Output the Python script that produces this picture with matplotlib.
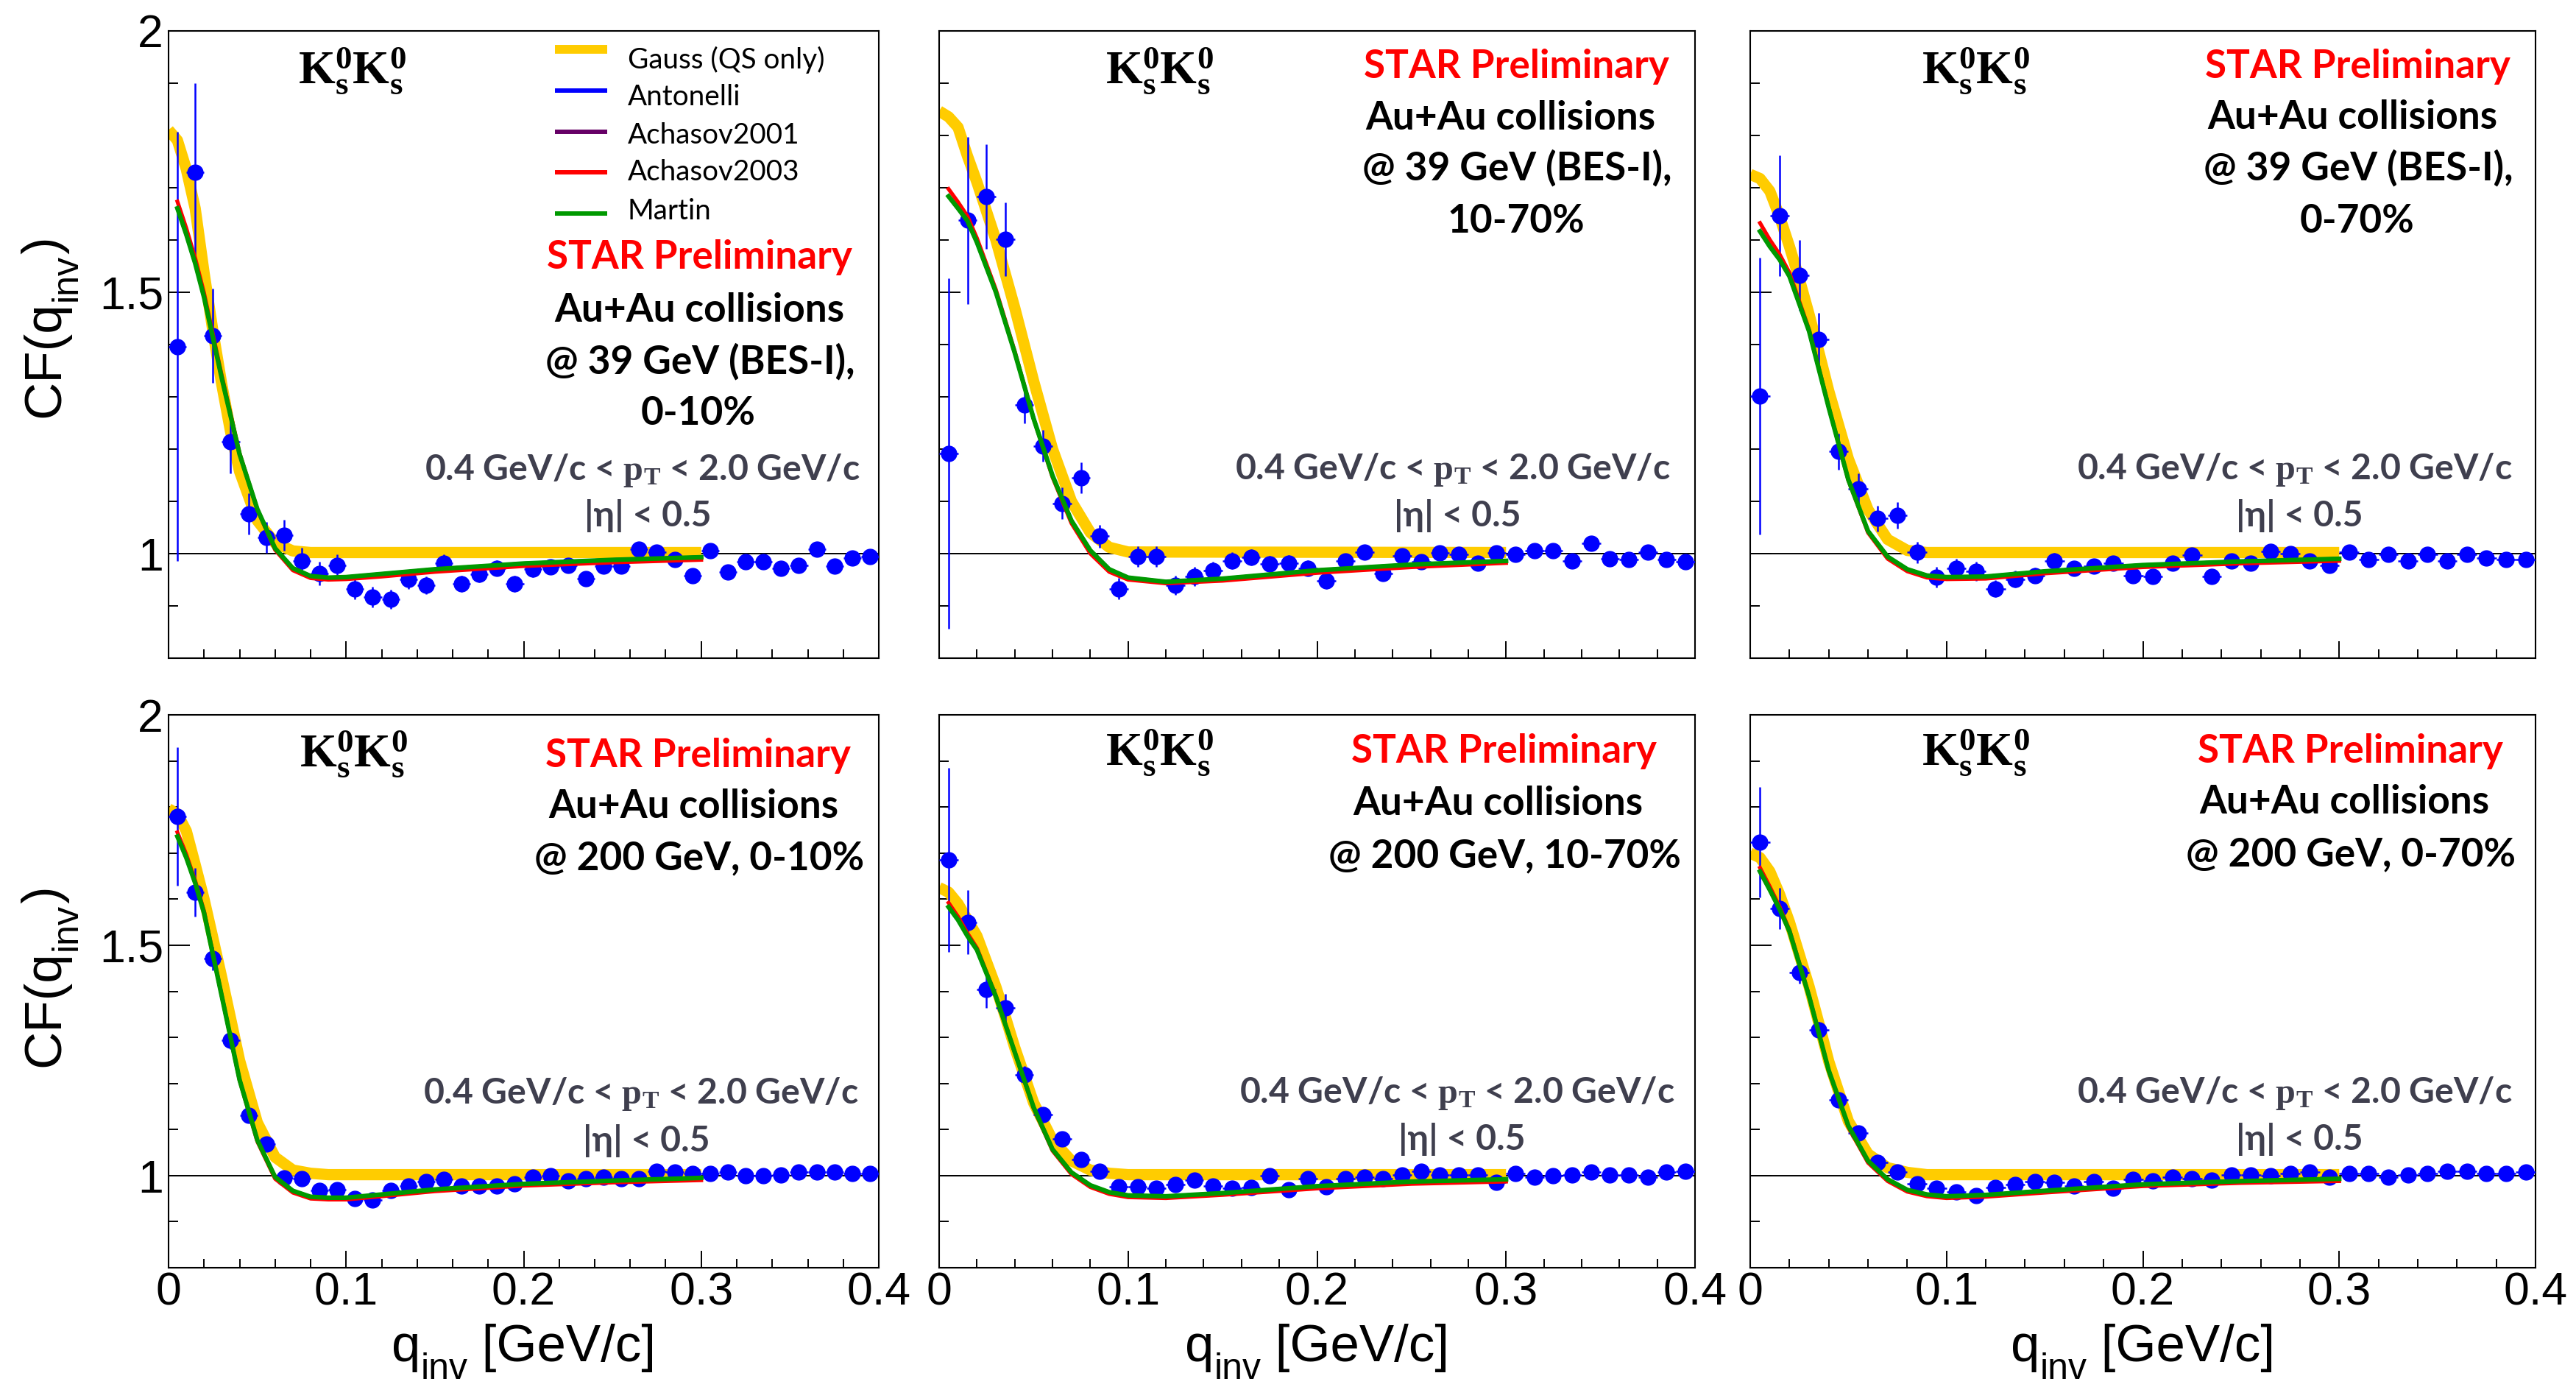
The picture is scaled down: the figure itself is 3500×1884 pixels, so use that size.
import matplotlib
matplotlib.use("Agg")
import matplotlib.pyplot as plt
from matplotlib.lines import Line2D
from matplotlib.ticker import MultipleLocator, FuncFormatter

plt.rcParams['mathtext.fontset'] = 'custom'
plt.rcParams['mathtext.rm'] = 'Liberation Serif'
plt.rcParams['mathtext.bf'] = 'Liberation Serif:bold'
plt.rcParams['mathtext.it'] = 'Liberation Serif:italic'
plt.rcParams['mathtext.sf'] = 'Liberation Sans'
plt.rcParams['font.family'] = ['Liberation Sans', 'DejaVu Sans']

# ---------------- data ----------------
Q = [0.005, 0.015, 0.025, 0.035, 0.045, 0.055, 0.065, 0.075, 0.085, 0.095,
     0.105, 0.115, 0.125, 0.135, 0.145, 0.155, 0.165, 0.175, 0.185, 0.195,
     0.205, 0.215, 0.225, 0.235, 0.245, 0.255, 0.265, 0.275, 0.285, 0.295,
     0.305, 0.315, 0.325, 0.335, 0.345, 0.355, 0.365, 0.375, 0.385, 0.395]
QERR = 0.005

CF_39_0010 = [1.396, 1.729, 1.417, 1.214, 1.076, 1.031, 1.035, 0.986, 0.962, 0.978,
              0.933, 0.917, 0.913, 0.950, 0.939, 0.982, 0.942, 0.960, 0.972, 0.942,
              0.970, 0.974, 0.978, 0.952, 0.976, 0.976, 1.008, 1.002, 0.988, 0.958,
              1.005, 0.964, 0.985, 0.985, 0.972, 0.978, 1.008, 0.976, 0.992, 0.994]
ERR_39_0010 = [0.41, 0.17, 0.09, 0.06, 0.04, 0.03, 0.03, 0.025, 0.022, 0.02,
               0.02, 0.02, 0.018, 0.018, 0.017, 0.016, 0.016, 0.015, 0.015, 0.015,
               0.015, 0.014, 0.014, 0.014, 0.014, 0.013, 0.013, 0.013, 0.013, 0.013,
               0.012, 0.012, 0.012, 0.012, 0.012, 0.012, 0.012, 0.011, 0.011, 0.011]
CF_39_1070 = [1.192, 1.637, 1.683, 1.601, 1.284, 1.206, 1.096, 1.145, 1.033, 0.933,
              0.994, 0.994, 0.939, 0.956, 0.968, 0.986, 0.993, 0.980, 0.982, 0.972,
              0.948, 0.986, 1.003, 0.962, 0.995, 0.985, 1.001, 0.998, 0.981, 1.001,
              0.998, 1.006, 1.006, 0.986, 1.020, 0.990, 0.988, 1.002, 0.989, 0.985]
ERR_39_1070 = [0.335, 0.16, 0.10, 0.07, 0.035, 0.03, 0.03, 0.03, 0.022, 0.02,
               0.02, 0.02, 0.018, 0.018, 0.017, 0.016, 0.016, 0.015, 0.015, 0.015,
               0.015, 0.014, 0.014, 0.014, 0.014, 0.013, 0.013, 0.013, 0.013, 0.013,
               0.012, 0.012, 0.012, 0.012, 0.012, 0.012, 0.012, 0.011, 0.011, 0.011]
CF_39_0070 = [1.301, 1.646, 1.532, 1.410, 1.195, 1.124, 1.067, 1.073, 1.002, 0.955,
              0.972, 0.966, 0.933, 0.951, 0.958, 0.986, 0.972, 0.976, 0.982, 0.958,
              0.956, 0.981, 0.997, 0.956, 0.986, 0.981, 1.004, 1.000, 0.986, 0.978,
              1.002, 0.988, 0.998, 0.986, 0.998, 0.986, 0.998, 0.992, 0.988, 0.988]
ERR_39_0070 = [0.265, 0.115, 0.067, 0.05, 0.035, 0.03, 0.025, 0.025, 0.02, 0.02,
               0.018, 0.018, 0.016, 0.016, 0.015, 0.015, 0.014, 0.014, 0.014, 0.013,
               0.013, 0.013, 0.012, 0.012, 0.012, 0.012, 0.011, 0.011, 0.011, 0.011,
               0.011, 0.010, 0.010, 0.010, 0.010, 0.010, 0.010, 0.010, 0.010, 0.010]
CF_200_0010 = [1.779, 1.615, 1.471, 1.293, 1.130, 1.069, 0.995, 0.994, 0.967, 0.969,
               0.950, 0.947, 0.967, 0.977, 0.987, 0.992, 0.977, 0.977, 0.977, 0.982,
               0.997, 1.000, 0.989, 0.994, 0.997, 0.994, 0.994, 1.009, 1.007, 1.005,
               1.004, 1.007, 0.999, 0.999, 1.002, 1.007, 1.007, 1.007, 1.004, 1.004]
ERR_200_0010 = [0.15, 0.053, 0.025, 0.018, 0.014, 0.012, 0.011, 0.010, 0.010, 0.009,
                0.009, 0.009, 0.008, 0.008, 0.008, 0.008, 0.008, 0.008, 0.007, 0.007,
                0.007, 0.007, 0.007, 0.007, 0.007, 0.007, 0.007, 0.007, 0.007, 0.007,
                0.006, 0.006, 0.006, 0.006, 0.006, 0.006, 0.006, 0.006, 0.006, 0.006]
CF_200_1070 = [1.685, 1.550, 1.404, 1.364, 1.218, 1.133, 1.079, 1.035, 1.010, 0.975,
               0.975, 0.972, 0.980, 0.990, 0.977, 0.972, 0.974, 0.999, 0.970, 0.994,
               0.975, 0.994, 0.997, 0.994, 1.002, 1.009, 1.002, 1.002, 1.002, 0.985,
               1.004, 0.997, 1.000, 1.002, 1.007, 1.002, 1.002, 0.997, 1.007, 1.010]
ERR_200_1070 = [0.20, 0.07, 0.04, 0.03, 0.02, 0.016, 0.014, 0.012, 0.011, 0.010,
                0.010, 0.010, 0.009, 0.009, 0.009, 0.009, 0.008, 0.008, 0.008, 0.008,
                0.008, 0.008, 0.008, 0.007, 0.007, 0.007, 0.007, 0.007, 0.007, 0.007,
                0.007, 0.007, 0.007, 0.007, 0.007, 0.007, 0.007, 0.007, 0.007, 0.007]
CF_200_0070 = [1.724, 1.580, 1.441, 1.316, 1.165, 1.092, 1.029, 1.007, 0.982, 0.972,
               0.964, 0.957, 0.974, 0.980, 0.987, 0.985, 0.977, 0.987, 0.972, 0.992,
               0.989, 0.997, 0.994, 0.990, 1.002, 1.002, 0.999, 1.005, 1.007, 0.997,
               1.004, 1.004, 0.997, 1.002, 1.005, 1.009, 1.009, 1.004, 1.004, 1.007]
ERR_200_0070 = [0.12, 0.045, 0.025, 0.018, 0.014, 0.012, 0.011, 0.010, 0.009, 0.009,
                0.008, 0.008, 0.008, 0.008, 0.007, 0.007, 0.007, 0.007, 0.007, 0.007,
                0.007, 0.007, 0.006, 0.006, 0.006, 0.006, 0.006, 0.006, 0.006, 0.006,
                0.006, 0.006, 0.006, 0.006, 0.006, 0.006, 0.006, 0.006, 0.006, 0.006]

# Gauss (QS only) fit curves
GX = [0, 0.005, 0.01, 0.015, 0.02, 0.025, 0.03, 0.035, 0.04, 0.05, 0.06, 0.07, 0.08, 0.09, 0.1, 0.3]
GAUSS_39_0010 = [1.81, 1.79, 1.735, 1.66, 1.537, 1.425, 1.323, 1.232, 1.157, 1.063, 1.020, 1.005, 1.002, 1.002, 1.002, 1.002]
GAUSS_39_1070 = [1.846, 1.835, 1.815, 1.76, 1.71, 1.655, 1.60, 1.535, 1.47, 1.33, 1.20, 1.10, 1.04, 1.012, 1.003, 1.002]
GAUSS_39_0070 = [1.725, 1.717, 1.693, 1.644, 1.587, 1.525, 1.457, 1.385, 1.311, 1.181, 1.084, 1.027, 1.006, 1.002, 1.002, 1.002]
GAUSS_200_0010 = [1.796, 1.785, 1.748, 1.675, 1.60, 1.515, 1.429, 1.34, 1.25, 1.115, 1.04, 1.012, 1.005, 1.002, 1.002, 1.002]
GAUSS_200_1070 = [1.625, 1.615, 1.59, 1.555, 1.52, 1.465, 1.41, 1.345, 1.278, 1.158, 1.077, 1.032, 1.012, 1.005, 1.002, 1.002]
GAUSS_200_0070 = [1.70, 1.69, 1.66, 1.61, 1.55, 1.48, 1.41, 1.33, 1.248, 1.118, 1.047, 1.017, 1.007, 1.002, 1.002, 1.002]

# FSI model curves
CX = [0.005, 0.01, 0.015, 0.02, 0.03, 0.04, 0.05, 0.06, 0.07, 0.08, 0.09, 0.1, 0.12, 0.15, 0.2, 0.25, 0.3]
MARTIN_39_0010 = [1.660, 1.610, 1.555, 1.490, 1.335, 1.190, 1.085, 1.010, 0.972, 0.957, 0.954, 0.955, 0.961, 0.970, 0.981, 0.988, 0.993]
ACH03_39_0010 = [1.673, 1.622, 1.565, 1.498, 1.340, 1.192, 1.084, 1.007, 0.968, 0.953, 0.950, 0.951, 0.956, 0.965, 0.976, 0.983, 0.988]
MARTIN_39_1070 = [1.683, 1.660, 1.636, 1.595, 1.500, 1.384, 1.258, 1.149, 1.063, 1.006, 0.970, 0.954, 0.946, 0.952, 0.968, 0.979, 0.986]
ACH03_39_1070 = [1.697, 1.672, 1.645, 1.603, 1.505, 1.387, 1.258, 1.146, 1.058, 1.000, 0.965, 0.950, 0.943, 0.948, 0.963, 0.974, 0.982]
MARTIN_39_0070 = [1.616, 1.587, 1.562, 1.530, 1.425, 1.279, 1.141, 1.043, 0.994, 0.970, 0.958, 0.955, 0.956, 0.966, 0.978, 0.985, 0.990]
ACH03_39_0070 = [1.632, 1.600, 1.572, 1.537, 1.428, 1.280, 1.140, 1.040, 0.990, 0.966, 0.954, 0.951, 0.952, 0.962, 0.974, 0.981, 0.986]
MARTIN_200_0010 = [1.736, 1.690, 1.635, 1.570, 1.389, 1.208, 1.077, 0.997, 0.967, 0.954, 0.952, 0.952, 0.959, 0.970, 0.982, 0.989, 0.995]
ACH03_200_0010 = [1.745, 1.697, 1.640, 1.574, 1.390, 1.207, 1.074, 0.993, 0.963, 0.950, 0.948, 0.948, 0.955, 0.966, 0.978, 0.985, 0.990]
MARTIN_200_1070 = [1.583, 1.555, 1.520, 1.490, 1.389, 1.268, 1.148, 1.057, 1.007, 0.979, 0.964, 0.957, 0.955, 0.962, 0.977, 0.987, 0.992]
ACH03_200_1070 = [1.592, 1.562, 1.526, 1.494, 1.390, 1.268, 1.146, 1.054, 1.003, 0.975, 0.960, 0.953, 0.951, 0.958, 0.972, 0.982, 0.987]
MARTIN_200_0070 = [1.660, 1.620, 1.578, 1.530, 1.389, 1.228, 1.108, 1.032, 0.992, 0.969, 0.959, 0.955, 0.958, 0.967, 0.981, 0.988, 0.993]
ACH03_200_0070 = [1.668, 1.627, 1.583, 1.533, 1.390, 1.227, 1.105, 1.028, 0.988, 0.965, 0.955, 0.951, 0.954, 0.963, 0.977, 0.984, 0.988]
# Antonelli and Achasov2001 lie underneath Martin in every panel
ANTONELLI_39_0010, ACH01_39_0010 = MARTIN_39_0010, MARTIN_39_0010
ANTONELLI_39_1070, ACH01_39_1070 = MARTIN_39_1070, MARTIN_39_1070
ANTONELLI_39_0070, ACH01_39_0070 = MARTIN_39_0070, MARTIN_39_0070
ANTONELLI_200_0010, ACH01_200_0010 = MARTIN_200_0010, MARTIN_200_0010
ANTONELLI_200_1070, ACH01_200_1070 = MARTIN_200_1070, MARTIN_200_1070
ANTONELLI_200_0070, ACH01_200_0070 = MARTIN_200_0070, MARTIN_200_0070

LEGEND_LABELS = ["Gauss (QS only)", "Antonelli", "Achasov2001", "Achasov2003", "Martin"]
PAIR_LABEL = r"$\mathbf{K^{0}_{s}K^{0}_{s}}$"
PT_LABEL = r"0.4 GeV/c < $\mathbf{p}_{\mathbf{T}}$ < 2.0 GeV/c"
ETA_LABEL = "|\u03b7| < 0.5"
XLABEL_PARTS = ("q", "inv", " [GeV/c]")
YLABEL_PARTS = ("CF(q", "inv", ")")

PANELS = [
    dict(cf=CF_39_0010, err=ERR_39_0010, gauss=GAUSS_39_0010, ant=ANTONELLI_39_0010,
         a01=ACH01_39_0010, a03=ACH03_39_0010, mar=MARTIN_39_0010,
         lines=["STAR Preliminary", "Au+Au collisions", "@ 39 GeV (BES-I),", "0-10%"]),
    dict(cf=CF_39_1070, err=ERR_39_1070, gauss=GAUSS_39_1070, ant=ANTONELLI_39_1070,
         a01=ACH01_39_1070, a03=ACH03_39_1070, mar=MARTIN_39_1070,
         lines=["STAR Preliminary", "Au+Au collisions", "@ 39 GeV (BES-I),", "10-70%"]),
    dict(cf=CF_39_0070, err=ERR_39_0070, gauss=GAUSS_39_0070, ant=ANTONELLI_39_0070,
         a01=ACH01_39_0070, a03=ACH03_39_0070, mar=MARTIN_39_0070,
         lines=["STAR Preliminary", "Au+Au collisions", "@ 39 GeV (BES-I),", "0-70%"]),
    dict(cf=CF_200_0010, err=ERR_200_0010, gauss=GAUSS_200_0010, ant=ANTONELLI_200_0010,
         a01=ACH01_200_0010, a03=ACH03_200_0010, mar=MARTIN_200_0010,
         lines=["STAR Preliminary", "Au+Au collisions", "@ 200 GeV, 0-10%"]),
    dict(cf=CF_200_1070, err=ERR_200_1070, gauss=GAUSS_200_1070, ant=ANTONELLI_200_1070,
         a01=ACH01_200_1070, a03=ACH03_200_1070, mar=MARTIN_200_1070,
         lines=["STAR Preliminary", "Au+Au collisions", "@ 200 GeV, 10-70%"]),
    dict(cf=CF_200_0070, err=ERR_200_0070, gauss=GAUSS_200_0070, ant=ANTONELLI_200_0070,
         a01=ACH01_200_0070, a03=ACH03_200_0070, mar=MARTIN_200_0070,
         lines=["STAR Preliminary", "Au+Au collisions", "@ 200 GeV, 0-70%"]),
]

# ---------------- layout (pixels in the 3500x1884 canvas) ----------------
W, H = 3500, 1884
COLS_X = [(229, 1194), (1276, 2303), (2378, 3445)]
ROWS_Y = [(41.5, 894), (971, 1722)]
INFO_POS = [
    [(950, 346), (950, 418), (951, 488), (949, 558)],
    [(2060, 87), (2052, 157), (2061, 225), (2060, 297)],
    [(3203, 87), (3196, 156), (3204, 225), (3202, 297)],
    [(948, 1023), (942, 1092), (950, 1162)],
    [(2043, 1017), (2035, 1088), (2044, 1159)],
    [(3193, 1017), (3185, 1086), (3194, 1157)],
]
PT_POS = [(873, 635), (1974, 634), (3118, 634), (871, 1482), (1980, 1481), (3118, 1481)]
ETA_POS = [(880, 698), (1980, 698), (3124, 698), (878, 1547), (1986, 1545), (3124, 1545)]
K_POS = [(478, 113), (1575, 113), (2684, 113), (480, 1041), (1575, 1040), (2684, 1040)]

C_GAUSS = '#ffcc00'
C_ANT = '#0000ff'
C_A01 = '#660066'
C_A03 = '#ff0000'
C_MAR = '#009900'
C_PTTXT = '#3f3f4e'

fig = plt.figure(figsize=(W / 100, H / 100), dpi=100)
fig.patch.set_facecolor('white')
R = fig.canvas.get_renderer()


def fx(px):
    return px / W


def fy(py):
    return 1 - py / H


fmt = FuncFormatter(lambda v, p: f"{v:g}")
for i, p in enumerate(PANELS):
    row, col = divmod(i, 3)
    x0, x1 = COLS_X[col]
    y0, y1 = ROWS_Y[row]
    ax = fig.add_axes([fx(x0), fy(y1), (x1 - x0) / W, (y1 - y0) / H])
    ax.set_xlim(0, 0.4)
    ax.set_ylim(0.8, 2.0)
    ax.axhline(1.0, color='black', lw=1.4, zorder=1.5)
    ax.plot(GX, p['gauss'], color=C_GAUSS, lw=11, solid_capstyle='butt',
            solid_joinstyle='round', zorder=2)
    ax.errorbar(Q, p['cf'], yerr=p['err'], xerr=QERR, fmt='o', color='#0000ff',
                ms=15, mec='#0000ff', elinewidth=1.8, capsize=0, zorder=3)
    ax.plot(CX, p['ant'], color=C_ANT, lw=3.5, zorder=4)
    ax.plot(CX, p['a01'], color=C_A01, lw=3.5, zorder=4.1)
    ax.plot(CX, p['a03'], color=C_A03, lw=3.8, zorder=4.2)
    ax.plot(CX, p['mar'], color=C_MAR, lw=4.5, zorder=4.3)

    ax.xaxis.set_major_locator(MultipleLocator(0.1))
    ax.xaxis.set_minor_locator(MultipleLocator(0.02))
    ax.yaxis.set_major_locator(MultipleLocator(0.5))
    ax.yaxis.set_minor_locator(MultipleLocator(0.1))
    ax.xaxis.set_major_formatter(fmt)
    ax.yaxis.set_major_formatter(fmt)
    ax.tick_params(which='both', direction='in', top=False, right=False,
                   width=1.4, labelsize=45, colors='black')
    ax.tick_params(axis='x', which='major', length=16.5, pad=3)
    ax.tick_params(axis='x', which='minor', length=8.5)
    ax.tick_params(axis='y', which='major', length=21, pad=5)
    ax.tick_params(axis='y', which='minor', length=9)
    ax.tick_params(labelbottom=(row == 1), labelleft=(col == 0))
    for s in ax.spines.values():
        s.set_linewidth(1.5)
        s.set_color('black')


def fit(t, target):
    for _ in range(3):
        w = t.get_window_extent(renderer=R).width
        t.set_fontsize(t.get_fontsize() * target / w)
    return t.get_fontsize()


def probe_size(s, target, **kw):
    t = fig.text(0.5, 0.5, s, fontsize=30, **kw)
    size = fit(t, target)
    t.remove()
    return size


LATO_B = dict(family=['Lato', 'Open Sans', 'DejaVu Sans'], weight='bold')
LATO_R = dict(family=['Lato', 'Open Sans', 'DejaVu Sans'])
s_info = probe_size("STAR Preliminary", 415, **LATO_B)
s_pt = probe_size(PT_LABEL, 593, **LATO_B)
s_leg = probe_size("Gauss (QS only)", 268, **LATO_R)
s_pair = 46

em = lambda pt: pt * 100 / 72.0

for i, p in enumerate(PANELS):
    for j, (line, (xc, yc)) in enumerate(zip(p['lines'], INFO_POS[i])):
        fig.text(fx(xc), fy(yc + 0.36 * em(s_info)), line, fontsize=s_info,
                 ha='center', va='baseline', color='#ff0000' if j == 0 else 'black', **LATO_B)
    xc, yc = PT_POS[i]
    fig.text(fx(xc), fy(yc + 0.36 * em(s_pt)), PT_LABEL, fontsize=s_pt,
             ha='center', va='baseline', color=C_PTTXT, **LATO_B)
    xc, yc = ETA_POS[i]
    fig.text(fx(xc), fy(yc + 0.36 * em(s_pt)), ETA_LABEL, fontsize=s_pt,
             ha='center', va='baseline', color=C_PTTXT, **LATO_B)
    xc, yb = K_POS[i]
    fig.text(fx(xc), fy(yb), PAIR_LABEL, fontsize=s_pair, ha='center', va='baseline',
             color='black')

# legend (top-left panel)
LEG_LINE_Y = [67, 123, 179, 234, 290]
LEG_TEXT_BASE = [93, 143, 195, 245, 298]
LEG_COLORS = [C_GAUSS, C_ANT, C_A01, C_A03, C_MAR]
LEG_LW = [8.6, 4.3, 4.3, 4.3, 4.3]
for lab, ly, tb, c, lw in zip(LEGEND_LABELS, LEG_LINE_Y, LEG_TEXT_BASE, LEG_COLORS, LEG_LW):
    fig.add_artist(Line2D([fx(754), fx(825)], [fy(ly), fy(ly)], color=c, lw=lw,
                          solid_capstyle='butt', transform=fig.transFigure))
    fig.text(fx(853), fy(tb), lab, fontsize=s_leg, ha='left', va='baseline',
             color='black', **LATO_R)

# axis titles: main text, lowered subscript, rest
T_SIZE, SUB_SIZE, SUB_DROP = 51, 36, 24


def xtitle(xc, base):
    a, b, c = XLABEL_PARTS
    ts = [fig.text(0, fy(base), a, fontsize=T_SIZE, ha='left', va='baseline'),
          fig.text(0, fy(base + SUB_DROP), b, fontsize=SUB_SIZE, ha='left', va='baseline'),
          fig.text(0, fy(base), c, fontsize=T_SIZE, ha='left', va='baseline')]
    ws = [t.get_window_extent(renderer=R).width for t in ts]
    x = xc - sum(ws) / 2
    for t, w in zip(ts, ws):
        t.set_x(fx(x))
        x += w


def ytitle(xbase, ystart):
    a, b, c = YLABEL_PARTS
    kw = dict(rotation=90, rotation_mode='anchor', ha='left', va='baseline')
    ts = [fig.text(fx(xbase), 0, a, fontsize=T_SIZE, **kw),
          fig.text(fx(xbase + SUB_DROP), 0, b, fontsize=SUB_SIZE, **kw),
          fig.text(fx(xbase), 0, c, fontsize=T_SIZE, **kw)]
    y = ystart
    for t in ts:
        t.set_y(fy(y))
        y -= t.get_window_extent(renderer=R).height


for (x0, x1) in COLS_X:
    xtitle((x0 + x1) / 2, 1849)
for ys in (567, 1449):
    ytitle(80, ys)

fig.savefig("out.png", dpi=100, facecolor='white')
